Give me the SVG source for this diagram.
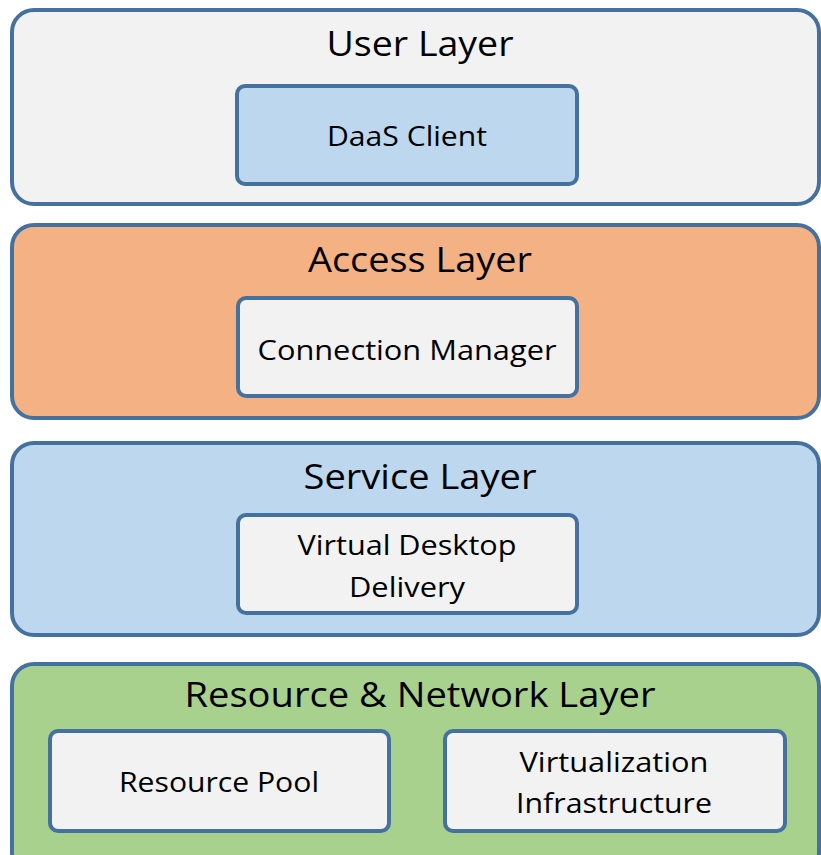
<svg xmlns="http://www.w3.org/2000/svg" width="821" height="855" viewBox="0 0 821 855">
<style>
.layer{stroke:#44719e;stroke-width:4}
.box{stroke:#44719e;stroke-width:4}
.t{font-family:"Open Sans","Noto Sans",sans-serif;fill:#000;text-anchor:middle}
.h{font-size:35px}
.s{font-size:28px}
</style>
<rect width="821" height="855" fill="#ffffff"/>
<g id="user-layer">
<rect class="layer" x="12" y="10" width="807" height="194" rx="22" fill="#f2f2f2"/>
<text class="t h" x="420" y="56" textLength="187" lengthAdjust="spacingAndGlyphs">User Layer</text>
</g>
<g id="daas-client">
<rect class="box" x="237" y="86" width="340" height="98" rx="8" fill="#bdd7ee"/>
<text class="t s" x="407" y="146" textLength="160" lengthAdjust="spacingAndGlyphs">DaaS Client</text>
</g>
<g id="access-layer">
<rect class="layer" x="12" y="225" width="807" height="193" rx="22" fill="#f4b183"/>
<text class="t h" x="420" y="272" textLength="224" lengthAdjust="spacingAndGlyphs">Access Layer</text>
</g>
<g id="connection-manager">
<rect class="box" x="238" y="298" width="339" height="98" rx="8" fill="#f2f2f2"/>
<text class="t s" x="407" y="360" textLength="299" lengthAdjust="spacingAndGlyphs">Connection Manager</text>
</g>
<g id="service-layer">
<rect class="layer" x="12" y="443" width="807" height="192" rx="22" fill="#bdd7ee"/>
<text class="t h" x="420" y="489" textLength="233" lengthAdjust="spacingAndGlyphs">Service Layer</text>
</g>
<g id="virtual-desktop-delivery">
<rect class="box" x="238" y="515" width="339" height="98" rx="8" fill="#f2f2f2"/>
<text class="t s" x="407" y="555" textLength="219" lengthAdjust="spacingAndGlyphs">Virtual Desktop</text>
<text class="t s" x="407" y="597" textLength="116" lengthAdjust="spacingAndGlyphs">Delivery</text>
</g>
<g id="resource-network-layer">
<rect class="layer" x="12" y="664" width="807" height="210" rx="22" fill="#a9d18e"/>
<text class="t h" x="420" y="707" textLength="471" lengthAdjust="spacingAndGlyphs">Resource &amp; Network Layer</text>
</g>
<g id="resource-pool">
<rect class="box" x="50" y="731" width="339" height="100" rx="8" fill="#f2f2f2"/>
<text class="t s" x="219" y="792" textLength="200" lengthAdjust="spacingAndGlyphs">Resource Pool</text>
</g>
<g id="virtualization-infrastructure">
<rect class="box" x="445" y="731" width="340" height="100" rx="8" fill="#f2f2f2"/>
<text class="t s" x="614" y="772" textLength="189" lengthAdjust="spacingAndGlyphs">Virtualization</text>
<text class="t s" x="614" y="813" textLength="196" lengthAdjust="spacingAndGlyphs">Infrastructure</text>
</g>
<g id="connectors"></g>
</svg>
